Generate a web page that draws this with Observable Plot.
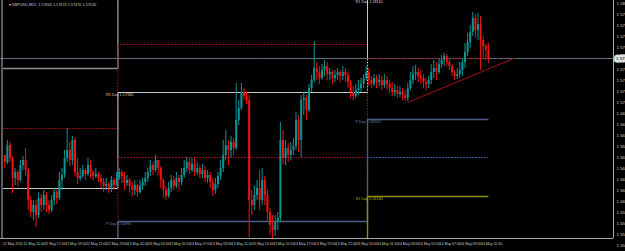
<!DOCTYPE html>
<html><head><meta charset="utf-8">
<script src="https://cdn.jsdelivr.net/npm/d3@7"></script>
<script src="https://cdn.jsdelivr.net/npm/@observablehq/plot@0.6"></script>
<style>html,body{margin:0;padding:0;background:#000;overflow:hidden}#chart svg{display:block}</style>
</head><body><div id="chart"></div>
<script>
const symbol = "GBPUSD,M15";
const firstOpen = 1.5655;
const closes = [1.5648,1.5665,1.5652,1.5632,1.5638,1.5630,1.5645,1.5650,1.5640,1.5610,
1.5598,1.5605,1.5595,1.5612,1.5605,1.5615,1.5605,1.5600,1.5610,1.5618,
1.5612,1.5630,1.5635,1.5652,1.5660,1.5650,1.5670,1.5638,1.5632,1.5634,
1.5640,1.5636,1.5645,1.5638,1.5634,1.5636,1.5632,1.5628,1.5624,1.5626,
1.5622,1.5630,1.5625,1.5632,1.5638,1.5634,1.5627,1.5630,1.5624,1.5620,
1.5625,1.5618,1.5624,1.5628,1.5632,1.5638,1.5645,1.5640,1.5650,1.5642,
1.5630,1.5620,1.5614,1.5622,1.5630,1.5624,1.5632,1.5628,1.5635,1.5642,
1.5648,1.5640,1.5646,1.5638,1.5642,1.5636,1.5640,1.5632,1.5635,1.5628,
1.5620,1.5626,1.5634,1.5642,1.5655,1.5665,1.5660,1.5668,1.5662,1.5690,
1.5702,1.5718,1.5714,1.5710,1.5610,1.5605,1.5615,1.5622,1.5610,1.5630,
1.5615,1.5598,1.5585,1.5580,1.5588,1.5592,1.5670,1.5652,1.5662,1.5655,
1.5660,1.5664,1.5690,1.5670,1.5710,1.5712,1.5700,1.5722,1.5730,1.5742,
1.5738,1.5732,1.5740,1.5744,1.5736,1.5738,1.5732,1.5735,1.5738,1.5734,
1.5738,1.5735,1.5728,1.5718,1.5714,1.5720,1.5722,1.5726,1.5732,1.5738,
1.5730,1.5726,1.5732,1.5728,1.5730,1.5725,1.5730,1.5726,1.5722,1.5718,
1.5720,1.5716,1.5718,1.5715,1.5712,1.5722,1.5730,1.5736,1.5738,1.5734,
1.5732,1.5728,1.5726,1.5730,1.5738,1.5742,1.5738,1.5746,1.5750,1.5754,
1.5748,1.5744,1.5738,1.5734,1.5736,1.5740,1.5748,1.5758,1.5768,1.5778,
1.5792,1.5780,1.5786,1.5770,1.5764,1.5760,1.5752];
const highs = [1.5654,1.5670,1.5668,1.5654,1.5642,1.5640,1.5650,1.5654,1.5662,1.5642,
1.5614,1.5610,1.5610,1.5618,1.5616,1.5620,1.5618,1.5610,1.5615,1.5622,
1.5620,1.5638,1.5642,1.5660,1.5682,1.5668,1.5674,1.5673,1.5652,1.5642,
1.5645,1.5642,1.5652,1.5650,1.5640,1.5642,1.5638,1.5635,1.5632,1.5632,
1.5628,1.5634,1.5632,1.5638,1.5642,1.5640,1.5638,1.5635,1.5632,1.5628,
1.5630,1.5626,1.5630,1.5632,1.5638,1.5642,1.5650,1.5648,1.5655,1.5650,
1.5644,1.5632,1.5624,1.5628,1.5635,1.5634,1.5638,1.5635,1.5642,1.5650,
1.5653,1.5652,1.5652,1.5653,1.5648,1.5645,1.5646,1.5644,1.5640,1.5638,
1.5632,1.5632,1.5638,1.5650,1.5670,1.5680,1.5670,1.5674,1.5672,1.5727,
1.5710,1.5727,1.5722,1.5718,1.5715,1.5620,1.5625,1.5630,1.5640,1.5642,
1.5634,1.5620,1.5602,1.5595,1.5595,1.5598,1.5688,1.5680,1.5670,1.5667,
1.5668,1.5672,1.5698,1.5695,1.5715,1.5718,1.5715,1.5726,1.5735,1.5769,
1.5748,1.5744,1.5746,1.5750,1.5748,1.5742,1.5740,1.5740,1.5742,1.5740,
1.5744,1.5742,1.5738,1.5730,1.5724,1.5726,1.5730,1.5732,1.5736,1.5744,
1.5742,1.5734,1.5736,1.5735,1.5736,1.5734,1.5736,1.5734,1.5730,1.5728,
1.5726,1.5724,1.5724,1.5722,1.5720,1.5727,1.5738,1.5744,1.5745,1.5742,
1.5740,1.5736,1.5732,1.5734,1.5746,1.5750,1.5748,1.5752,1.5755,1.5757,
1.5756,1.5752,1.5746,1.5740,1.5742,1.5748,1.5752,1.5767,1.5777,1.5785,
1.5798,1.5796,1.5797,1.5794,1.5774,1.5766,1.5767];
const lows = [1.5642,1.5646,1.5648,1.5617,1.5625,1.5624,1.5628,1.5640,1.5634,1.5600,
1.5593,1.5590,1.5583,1.5592,1.5598,1.5600,1.5598,1.5596,1.5598,1.5605,
1.5606,1.5610,1.5620,1.5632,1.5648,1.5644,1.5645,1.5634,1.5626,1.5629,
1.5632,1.5630,1.5634,1.5632,1.5630,1.5632,1.5628,1.5622,1.5618,1.5620,
1.5617,1.5618,1.5620,1.5624,1.5630,1.5627,1.5620,1.5624,1.5618,1.5614,
1.5615,1.5613,1.5616,1.5620,1.5624,1.5628,1.5634,1.5635,1.5638,1.5635,
1.5622,1.5612,1.5610,1.5612,1.5618,1.5620,1.5622,1.5620,1.5625,1.5632,
1.5638,1.5636,1.5638,1.5634,1.5635,1.5632,1.5632,1.5628,1.5627,1.5622,
1.5614,1.5616,1.5622,1.5630,1.5638,1.5650,1.5645,1.5652,1.5655,1.5660,
1.5685,1.5700,1.5710,1.5706,1.5573,1.5595,1.5600,1.5610,1.5600,1.5605,
1.5605,1.5588,1.5575,1.5570,1.5574,1.5580,1.5588,1.5646,1.5645,1.5648,
1.5650,1.5655,1.5660,1.5658,1.5653,1.5695,1.5690,1.5698,1.5718,1.5728,
1.5730,1.5726,1.5730,1.5734,1.5730,1.5730,1.5726,1.5728,1.5730,1.5728,
1.5730,1.5728,1.5722,1.5712,1.5710,1.5712,1.5715,1.5718,1.5722,1.5730,
1.5724,1.5722,1.5724,1.5722,1.5724,1.5720,1.5722,1.5720,1.5717,1.5714,
1.5714,1.5712,1.5713,1.5710,1.5709,1.5709,1.5720,1.5726,1.5730,1.5728,
1.5726,1.5722,1.5720,1.5722,1.5726,1.5732,1.5730,1.5736,1.5742,1.5744,
1.5744,1.5740,1.5734,1.5730,1.5731,1.5732,1.5734,1.5742,1.5754,1.5762,
1.5774,1.5772,1.5770,1.5740,1.5752,1.5750,1.5747];

const xTickBars = [0,8,16,24,32,40,48,56,64,72,80,88,96,104,112,120,128,136,144,152,160,168,176,184];
const xTickLabels = ["12 May 2015","12 May 15:00","12 May 17:00","12 May 19:00","12 May 21:00","12 May 23:00",
"13 May 01:00","13 May 03:00","13 May 05:00","13 May 07:00","13 May 09:00","13 May 11:00",
"13 May 13:00","13 May 15:00","13 May 17:00","13 May 19:00","13 May 21:00","13 May 23:00",
"14 May 01:00","14 May 03:00","14 May 05:00","14 May 07:00","14 May 09:00","14 May 11:00"];
const yTicks = [1.5807,1.5796,1.5785,1.5774,1.5763,1.5752,1.5741,1.5730,1.5719,1.5708,1.5697,1.5686,
1.5675,1.5664,1.5653,1.5642,1.5631,1.5620,1.5609,1.5598,1.5587,1.5576,1.5565];

const dayStartBars = [-0.5, 43.5, 139.5];
const lastBarEdge = 185.8;
const pivotR2 = [1.5742, 1.5814, 1.5891];
const pivotMidR = [1.5682, 1.5766, 1.5851];
const pivotR1 = [1.5622, 1.5718, 1.5811];
const pivotMidRP = [1.5561, 1.5653, 1.5752];
const pivotP = [1.5500, 1.5589, 1.5691];
const pivotMidPS = [1.5450, 1.5529, 1.5653];
const pivotS1 = [1.5400, 1.5470, 1.5614];

const trendBars = [154.9, 195.7];
const trendPrices = [1.5708, 1.5752];

// ---------- build ----------
const FONT = "Liberation Sans, Arial, sans-serif";
const bull = "#0a9494", bear = "#f21212";
const candles = closes.map((c, i) => {
  const o = i ? closes[i - 1] : firstOpen;
  return {i, open: o, close: c, high: Math.max(highs[i], o, c), low: Math.min(lows[i], o, c)};
});
const up = candles.filter(d => d.close >= d.open);
const down = candles.filter(d => d.close < d.open);
const last = candles[candles.length - 1];
const xDomain = [-1.6538, 234.115];
const yDomain = [1.5572, 1.5810];

function steps(vals) {
  return dayStartBars.map((b, k) => ({x: b, y: vals[k]})).concat([{x: lastBarEdge, y: vals[vals.length - 1]}]);
}
const levels = [
  {vals: pivotR2, stroke: "#8e8e8e", w: 1.4, dash: null},
  {vals: pivotMidR, stroke: "#9c0e0e", w: 1, dash: "1,2"},
  {vals: pivotR1, stroke: "#c6c6c6", w: 1, dash: null},
  {vals: pivotMidRP, stroke: "#9c0e0e", w: 1, dash: "1,2"},
  {vals: pivotP, stroke: "#4c5c84", w: 1.4, dash: null},
  {vals: pivotMidPS, stroke: "#3a66aa", w: 1, dash: "1,2"},
  {vals: pivotS1, stroke: "#8e8e00", w: 1.4, dash: null}
];
const labelDefs = [
  {name: "R2", vals: pivotR2, fill: "#a0a0a0"},
  {name: "R1", vals: pivotR1, fill: "#cfcfcf"},
  {name: "P", vals: pivotP, fill: "#6a86b8"},
  {name: "S1", vals: pivotS1, fill: "#b0b000"}
];
const labels = [];
for (const L of labelDefs) for (const k of [1, 2]) {
  const v = L.vals[k];
  if (v < yDomain[0] || v > yDomain[1] + 0.0005) continue; // level off the visible price range
  labels.push({x: dayStartBars[k], y: v, text: `${L.name} Day ${v.toFixed(5)}`, fill: L.fill});
}
const trend = trendBars.map((b, k) => ({x: b, y: trendPrices[k]}));
const title = `${symbol}  ${last.open.toFixed(5)} ${last.high.toFixed(5)} ${last.low.toFixed(5)} ${last.close.toFixed(5)}`;

const chart = Plot.plot({
  width: 625, height: 251,
  marginTop: 0, marginRight: 12, marginBottom: 13, marginLeft: 0,
  x: {domain: xDomain, axis: null},
  y: {domain: yDomain, axis: null},
  style: {background: "#000", fontFamily: FONT},
  marks: [
    Plot.ruleY([last.close], {stroke: "#5e6a7a", strokeWidth: 1}),
    ...levels.map(L => Plot.line(steps(L.vals), {x: "x", y: "y", curve: "step-after", stroke: L.stroke, strokeWidth: L.w, strokeDasharray: L.dash, clip: true})),
    Plot.line(trend, {x: "x", y: "y", stroke: "#a81010", strokeWidth: 1, clip: true}),
    Plot.ruleX(up, {x: "i", y1: "low", y2: "high", stroke: bull, strokeWidth: 1, clip: true}),
    Plot.ruleX(down, {x: "i", y1: "low", y2: "high", stroke: bear, strokeWidth: 1, clip: true}),
    Plot.ruleX(up, {x: "i", y1: "open", y2: "close", stroke: bull, strokeWidth: 2, clip: true}),
    Plot.ruleX(down, {x: "i", y1: "open", y2: "close", stroke: bear, strokeWidth: 2, clip: true}),
    Plot.text(labels, {x: "x", y: "y", text: "text", fill: "fill", dx: -12, dy: 2, textAnchor: "start", fontSize: 3.8}),
    // frame lines
    Plot.ruleY([yDomain[0]], {stroke: "#a8a8a8", strokeWidth: 1}),
    Plot.ruleX([xDomain[1]], {stroke: "#a8a8a8", strokeWidth: 1}),
    Plot.ruleX([xDomain[0]], {stroke: "#9a9a9a", strokeWidth: 1.2, dx: 1.5}),
    // y axis labels
    Plot.text(yTicks, {y: d => d, frameAnchor: "right", dx: 3, textAnchor: "start", text: d => d.toFixed(5), fill: "#c8c8c8", fontSize: 4.4}),
    Plot.text([last.close], {y: d => d, frameAnchor: "right", dx: 2.5, textAnchor: "start", text: d => d.toFixed(5), fill: "#000", stroke: "#e0e0e0", strokeWidth: 5, fontSize: 4.4}),
    // x axis labels
    Plot.text(xTickBars, {x: d => d, frameAnchor: "bottom", dx: -2, dy: 6, textAnchor: "start", text: (d, i) => xTickLabels[i], fill: "#c8c8c8", fontSize: 3.5}),
    // title
    Plot.text([title], {frameAnchor: "top-left", dx: 8, dy: 3, text: d => "\u25BE " + d, fill: "#c8c8c8", fontSize: 3.8, textAnchor: "start"})
  ]
});
document.getElementById("chart").appendChild(chart);
</script>
</body></html>
